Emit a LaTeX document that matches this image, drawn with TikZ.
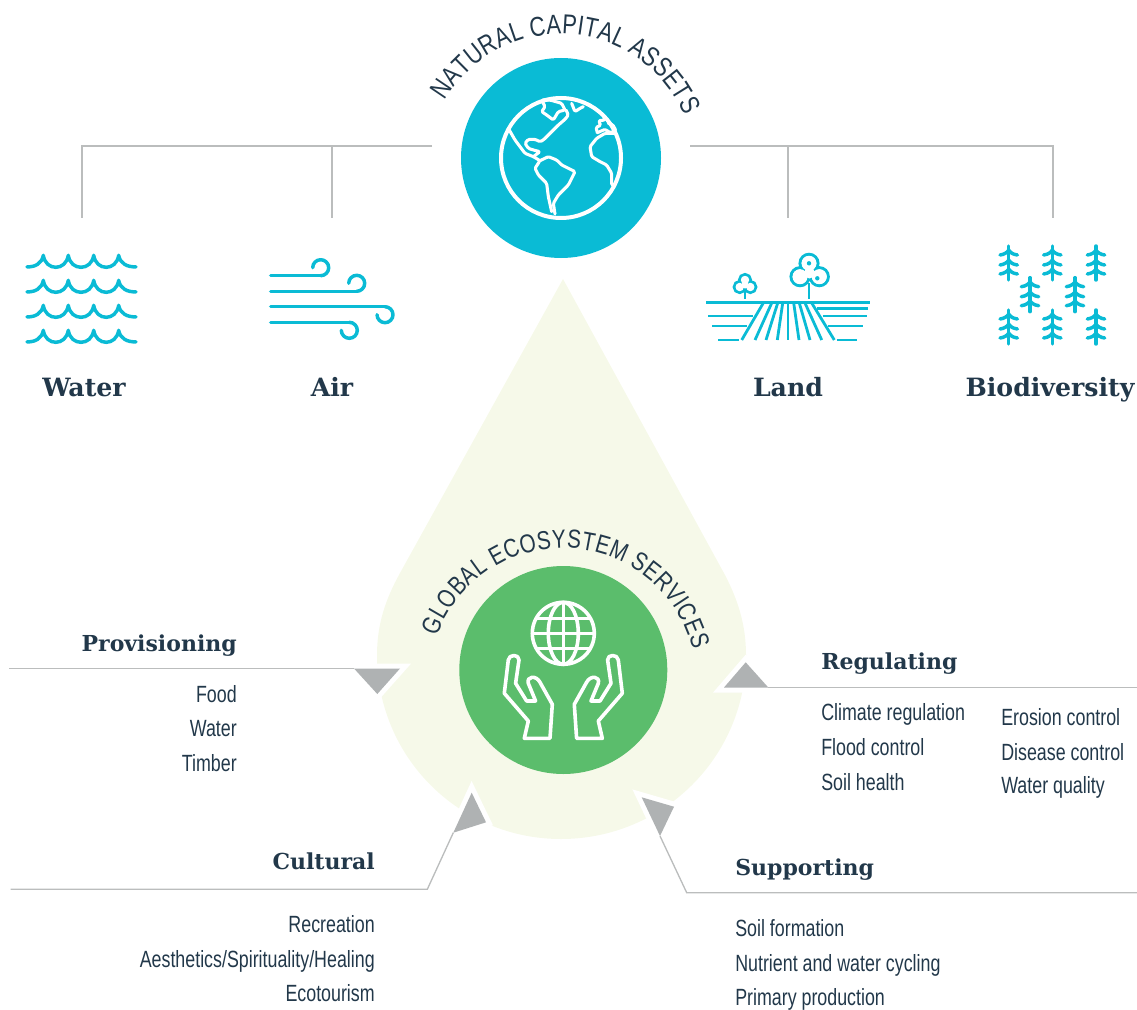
\documentclass[tikz,border=0pt]{standalone}
\usepackage{fontspec}
\usetikzlibrary{decorations.text,shapes.geometric}
\setmainfont{Liberation Sans}
\newfontfamily\headfam{DejaVu Serif}
\newfontfamily\bodyfam[FakeStretch=0.76]{Liberation Sans}
\newfontfamily\arcfam[FakeStretch=0.8]{Liberation Sans}
\definecolor{ink}{HTML}{22384A}
\definecolor{teal}{HTML}{0ABBD5}
\definecolor{leaf}{HTML}{5BBD6C}
\definecolor{pale}{HTML}{F6F9E9}
\definecolor{rule}{HTML}{BBBDBD}
\definecolor{tri}{HTML}{AFB2B3}
\newcommand\arcfontA{\arcfam\fontsize{20.5}{20.5}\selectfont}
\newcommand\arcfontB{\arcfam\fontsize{19.5}{19.5}\selectfont}
\tikzset{
 headtxt/.style={font=\headfam\bfseries\fontsize{18.9}{20}\selectfont,text=ink,inner sep=0pt},
 subhead/.style={font=\headfam\bfseries\fontsize{16.5}{18}\selectfont,text=ink,inner sep=0pt},
 bodytxt/.style={font=\bodyfam\fontsize{17.6}{18}\selectfont,text=ink,inner sep=0pt},
 conn/.style={draw=rule,line width=1pt},
 icon/.style={draw=teal,line width=2.6pt,line cap=round,line join=round},
 landline/.style={draw=teal,line width=2.1pt},
 whiteicon/.style={draw=white,line width=2.7pt,line cap=round,line join=round},
 halo/.style={draw=white,fill=white,line width=7.5pt,line join=miter,miter limit=10},
 trifill/.style={fill=tri},
}
\begin{document}
\begin{tikzpicture}[x=.75pt,y=-.75pt]
\useasboundingbox (0,0) rectangle (1137,1009);
% drop
\fill[pale] (563,279) -- (725,575) .. controls (738,600) and (746,625) .. (746,655)
  .. controls (746,757) and (663,839) .. (561,839)
  .. controls (459,839) and (377,757) .. (377,655)
  .. controls (377,625) and (385,600) .. (400,573) -- cycle;
% circles
\node[circle,fill=teal,minimum size=150pt,inner sep=0pt] (natural) at (561,158) {};
\node[circle,fill=leaf,minimum size=156pt,inner sep=0pt] (global) at (563.3,670) {};
% arc titles
\path[decorate,decoration={text along path,text align={fit to path},
  text={|\arcfontA\color{ink}|NATURAL CAPITAL ASSETS}}]
  plot[domain=150:23,samples=80] ({561+134*cos(\x)},{168-134*sin(\x)});
\path[decorate,decoration={text along path,text align={fit to path},
  text={|\arcfontB\color{ink}|GLOBAL ECOSYSTEM SERVICES}}]
  plot[domain=160:14,samples=80] ({563+134*cos(\x)},{682-134*sin(\x)});
% top connectors
\coordinate (lstart) at (432,146);
\coordinate (lcorner) at (82,146);
\coordinate (lend) at (82,218);
\coordinate (abranch) at (332,146);
\coordinate (aend) at (332,218);
\coordinate (rstart) at (690,146);
\coordinate (rcorner) at (1053,146);
\coordinate (rend) at (1053,218);
\coordinate (bbranch) at (788,146);
\coordinate (bend) at (788,218);
\draw[conn] (lstart) -- (lcorner) -- (lend);
\draw[conn] (abranch) -- (aend);
\draw[conn] (rstart) -- (rcorner) -- (rend);
\draw[conn] (bbranch) -- (bend);
% earth
\begin{scope}[white,line width=2.3pt,line join=round,line cap=round]
\draw[line width=3pt] (561,158) circle[radius=60];
\begin{scope}[shift={(490,90)},x=.25pt,y=-.25pt,rounded corners=1pt]
\draw (55,115) -- (75,150) -- (90,170) -- (105,190) -- (130,200) -- (150,212) -- (135,235) -- (145,255) -- (170,280) -- (175,320) -- (185,365);
\draw (150,212) -- (175,200) -- (200,210) -- (215,225) -- (255,245) -- (245,265) -- (235,285) -- (205,315) -- (190,340) -- (195,372);
\draw (130,200) -- (150,185) -- (130,180) -- (115,175) -- (105,160) -- (115,148) -- (135,148) -- (150,155) -- (160,150) -- (180,130) -- (205,105) -- (225,88) -- (235,75) -- (228,60);
\draw (155,30) -- (180,30) -- (215,40) -- (225,60) -- (205,65) -- (190,90) -- (170,75) -- (155,65) -- (165,50) -- cycle;
\draw (245,40) -- (255,65) -- (270,55) -- (280,50);
\draw (375,130) -- (345,130) -- (320,145) -- (300,170) -- (305,200) -- (330,215) -- (350,225) -- (365,250) -- (365,285) -- (372,288);
\draw (322,128) -- (318,112) -- (332,106) -- (326,92) -- (345,90) -- (340,76);
\draw (322,128) -- (345,118) -- (360,128) -- (378,122) -- (368,104) -- (355,100);
\end{scope}
\end{scope}
% water
\foreach \yy in {267.3,292.3,317.3,342.3}{
\draw[icon,shift={(0,\yy)}] (27,-.5) .. controls (35,0) and (42,-4) .. (43.3,-12)
 .. controls (44.5,-4) and (50,0) .. (55.8,0) .. controls (61.6,0) and (67,-4) .. (68.3,-12)
 .. controls (69.5,-4) and (75,0) .. (81,0) .. controls (87,0) and (92.4,-4) .. (93.7,-12)
 .. controls (95,-4) and (100.4,0) .. (106.2,0) .. controls (112,0) and (117.4,-4) .. (118.7,-12)
 .. controls (120,-4) and (127,0) .. (136,-.5);
}
% air
\draw[icon] (270.7,275.7) -- (320.7,275.7);
\draw[icon] (270.7,291.3) -- (356.7,291.3);
\draw[icon] (270.7,306.7) -- (385,306.7);
\draw[icon] (270.7,322.3) -- (349.3,322.3);
\foreach \cx/\cy/\sy in {320.7/267.7/1,356.7/283.3/1,385/314.7/-1,349.3/330.3/-1}{
\draw[icon,shift={(\cx,\cy)},yscale=\sy] (0,8) .. controls (4.4,8) and (8,4.4) .. (8,0)
 .. controls (8,-4.4) and (4.4,-8) .. (0,-8) .. controls (-4.4,-8) and (-8,-4.4) .. (-8,0);
}
% land
\draw[landline,line width=2.5pt] (706,302.3) -- (870,302.3);
\foreach \a/\b/\yy in {708.3/753.3/316,712.3/747.3/326,718.3/739.3/340,817.3/868.3/308.7,822.7/866.7/316,828.3/863.3/326,836.7/856.7/340}{
\draw[landline] (\a,\yy) -- (\b,\yy);
}
\foreach \a/\b in {763.3/741.7,771.7/755,777.7/766,782.7/777.3,788/788,793.7/799,799.3/810,805/821.7,811.7/834.3}{
\draw[landline] (\a,303) -- (\b,340);
}
\foreach \cx/\cy in {809/263.3,800/276.7,819.3/276.7}{
\draw[draw=teal,line width=2.3pt] (\cx,\cy) circle[radius=9];
}
\foreach \cx/\cy in {809/263.3,800/276.7,819.3/276.7}{
\fill[white] (\cx,\cy) circle[radius=7.5];
}
\fill[white] (809.5,273) circle[radius=5.5];
\fill[teal] (809,263.3) circle[radius=2.2];
\fill[teal] (817.3,278.3) circle[radius=2.2];
\draw[landline] (809,283) -- (809,299);
\foreach \cx/\cy in {745/280,739.7/287,750.3/287}{
\draw[draw=teal,line width=2.2pt] (\cx,\cy) circle[radius=5.6];
}
\foreach \cx/\cy in {745/280,739.7/287,750.3/287}{
\fill[white] (\cx,\cy) circle[radius=4.2];
}
\fill[white] (745,285) circle[radius=3.5];
\draw[landline] (745,291) -- (745,299);
% trees
\foreach \tx/\ty in {1008.7/246,1052.3/246,1096/246,1030/277.7,1075/277.7,1008.7/310,1052.3/310,1096/310}{
\draw[icon,shift={(\tx,\ty)}] (0,0) -- (0,34);
\foreach \by in {4,14,23}{
\draw[icon,shift={(\tx,\ty)}] (-8.7,\by+5) .. controls (-4,\by+4.5) and (-1,\by+2) .. (0,\by)
 .. controls (1,\by+2) and (4,\by+4.5) .. (8.7,\by+5);
}
}
% hands and globe
\begin{scope}[whiteicon]
\draw (563.3,633.3) circle[radius=31];
\draw (563.3,633.3) ellipse[x radius=15,y radius=31];
\draw (563.3,602.3) -- (563.3,664.3);
\draw (532.3,633.3) -- (594.3,633.3);
\draw (536.2,618.3) -- (590.4,618.3);
\draw (536.2,648.3) -- (590.4,648.3);
\foreach \sx in {1,-1}{
\draw[shift={(563.3,0)},xscale=\sx] (-39,738.3) -- (-35,721) -- (-59,693.3) -- (-55,660)
 .. controls (-54.5,654) and (-44,654) .. (-44.3,660) -- (-47.7,683.3) -- (-36.7,701) -- (-27.7,701) -- (-35,683.3)
 .. controls (-37,676) and (-27,675) .. (-23.3,682.3) -- (-11,704.3) -- (-13.3,738.3) -- cycle;
}
\end{scope}
% service triangles and connectors
\coordinate (pa) at (354,668.5); \coordinate (pb) at (400,668.5); \coordinate (pc) at (377.3,694);
\coordinate (ra) at (768.3,687.5); \coordinate (rb) at (745.7,662.3); \coordinate (rc) at (724,687.5);
\coordinate (ca) at (453.3,832.7); \coordinate (cb) at (471.7,792.7); \coordinate (cc) at (486,822.3);
\coordinate (sa) at (660,836); \coordinate (sb) at (641.7,797.3); \coordinate (sc) at (674,806.7);
\foreach \a/\b/\c in {pa/pb/pc,ra/rb/rc,ca/cb/cc,sa/sb/sc}{
\draw[halo] (\a) -- (\b) -- (\c) -- cycle;
\fill[trifill] (\a) -- (\b) -- (\c) -- cycle;
}
\coordinate (pend) at (9,668.5);
\coordinate (rlineend) at (1137,687.5);
\coordinate (ccorner) at (427.3,889.3); \coordinate (clineend) at (10.7,889.3);
\coordinate (scorner) at (686.7,892.7); \coordinate (slineend) at (1137,892.7);
\draw[conn] (pa) -- (pend);
\draw[conn] (ra) -- (rlineend);
\draw[conn] (ca) -- (ccorner) -- (clineend);
\draw[conn] (sa) -- (scorner) -- (slineend);
% labels
\node[headtxt,anchor=base] (lwater) at (84,396) {Water};
\node[headtxt,anchor=base] (lair) at (332,396) {Air};
\node[headtxt,anchor=base] (lland) at (788,396) {Land};
\node[headtxt,anchor=base] (lbio) at (1050,396) {Biodiversity};
\node[subhead,anchor=base east] (hprov) at (237,651.7) {Provisioning};
\node[subhead,anchor=base west] (hreg) at (821,669.3) {Regulating};
\node[subhead,anchor=base east] (hcult) at (375,869.3) {Cultural};
\node[subhead,anchor=base west] (hsup) at (735,875) {Supporting};
\node[bodytxt,anchor=base east] (p1) at (237,702.7) {Food};
\node[bodytxt,anchor=base east] (p2) at (237,736.7) {Water};
\node[bodytxt,anchor=base east] (p3) at (237,771.7) {Timber};
\node[bodytxt,anchor=base west] (r1) at (821,720.7) {Climate regulation};
\node[bodytxt,anchor=base west] (r2) at (821,755.7) {Flood control};
\node[bodytxt,anchor=base west] (r3) at (821,790) {Soil health};
\node[bodytxt,anchor=base west] (r4) at (1001,725) {Erosion control};
\node[bodytxt,anchor=base west] (r5) at (1001,760) {Disease control};
\node[bodytxt,anchor=base west] (r6) at (1001,793.3) {Water quality};
\node[bodytxt,anchor=base east] (c1) at (375,932.3) {Recreation};
\node[bodytxt,anchor=base east] (c2) at (375,967.3) {Aesthetics/Spirituality/Healing};
\node[bodytxt,anchor=base east] (c3) at (375,1001) {Ecotourism};
\node[bodytxt,anchor=base west] (s1) at (735,936) {Soil formation};
\node[bodytxt,anchor=base west] (s2) at (735,971) {Nutrient and water cycling};
\node[bodytxt,anchor=base west] (s3) at (735,1005) {Primary production};
\end{tikzpicture}
\end{document}
